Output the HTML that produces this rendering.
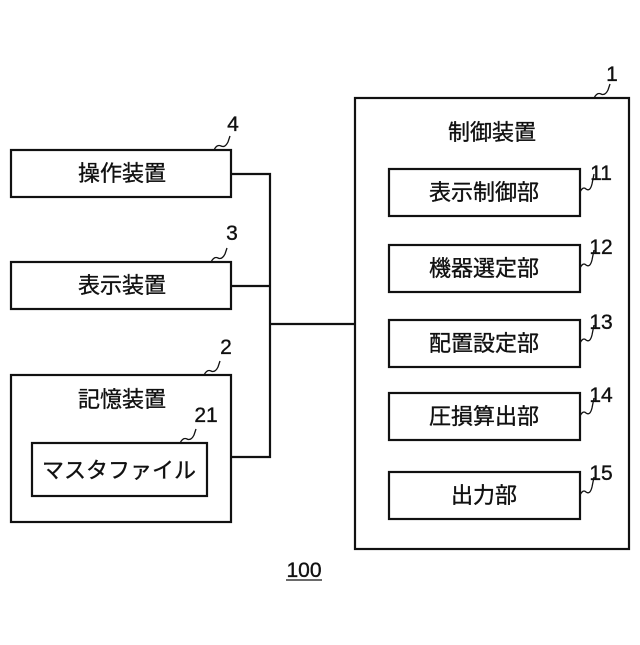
<!DOCTYPE html>
<html><head><meta charset="utf-8"><style>
html,body{margin:0;padding:0;background:#fff;}
svg text{font-family:"Liberation Sans","Noto Sans CJK JP",sans-serif;fill:#111;}
.j{stroke:#111;stroke-width:0.35;}
</style></head><body>
<svg width="640" height="640" viewBox="0 0 640 640" xmlns="http://www.w3.org/2000/svg">
<g fill="none" stroke="#111" stroke-width="2.2">
<rect x="11" y="150" width="220" height="47"/>
<rect x="11" y="262" width="220" height="47"/>
<rect x="11" y="375" width="220" height="147"/>
<rect x="32" y="443" width="175" height="53"/>
<rect x="355" y="98" width="274" height="451"/>
<rect x="389" y="169" width="191" height="47"/>
<rect x="389" y="245" width="191" height="47"/>
<rect x="389" y="320" width="191" height="47"/>
<rect x="389" y="393" width="191" height="47"/>
<rect x="389" y="472" width="191" height="47"/>
<polyline points="231,174 270,174 270,457 231,457"/>
<line x1="231" y1="286" x2="270" y2="286"/>
<line x1="270" y1="324" x2="355" y2="324"/>
</g>
<g fill="none" stroke="#111" stroke-width="1.3">
<path d="M214,150 q3,-6 7,-4 q4,2 7,-4 l2,-6"/>
<path d="M211,262 q3,-6 7,-4 q4,2 7,-4 l2,-6"/>
<path d="M204,375 q3,-6 7,-4 q4,2 7,-4 l2,-6"/>
<path d="M180,443 q3,-6 7,-4 q4,2 7,-4 l2,-6"/>
<path d="M594,98 q3,-6 7,-4 q4,2 7,-4 l2,-6"/>
<path d="M580,192 q3,-6 6,-3 q4,3 6,-5 l2,-10"/>
<path d="M580,268 q3,-6 6,-3 q4,3 6,-5 l2,-10"/>
<path d="M580,343 q3,-6 6,-3 q4,3 6,-5 l2,-10"/>
<path d="M580,416 q3,-6 6,-3 q4,3 6,-5 l2,-10"/>
<path d="M580,495 q3,-6 6,-3 q4,3 6,-5 l2,-10"/>
<line x1="286" y1="580" x2="322" y2="580"/>
</g>
<g font-size="22" text-anchor="middle" class="j">
<text x="122" y="181">操作装置</text>
<text x="122" y="293">表示装置</text>
<text x="122" y="407">記憶装置</text>
<text x="119" y="478">マスタファイル</text>
<text x="492" y="140">制御装置</text>
<text x="484" y="200">表示制御部</text>
<text x="484" y="276">機器選定部</text>
<text x="484" y="351">配置設定部</text>
<text x="484" y="424">圧損算出部</text>
<text x="484" y="503">出力部</text>
</g>
<g font-size="21" text-anchor="middle" class="j">
<text x="233" y="131">4</text>
<text x="232" y="240">3</text>
<text x="226" y="354">2</text>
<text x="206" y="422">21</text>
<text x="612" y="81">1</text>
<text x="601" y="180">11</text>
<text x="601" y="254">12</text>
<text x="601" y="329">13</text>
<text x="601" y="402">14</text>
<text x="601" y="480">15</text>
<text x="304" y="577">100</text>
</g>
</svg>
</body></html>
